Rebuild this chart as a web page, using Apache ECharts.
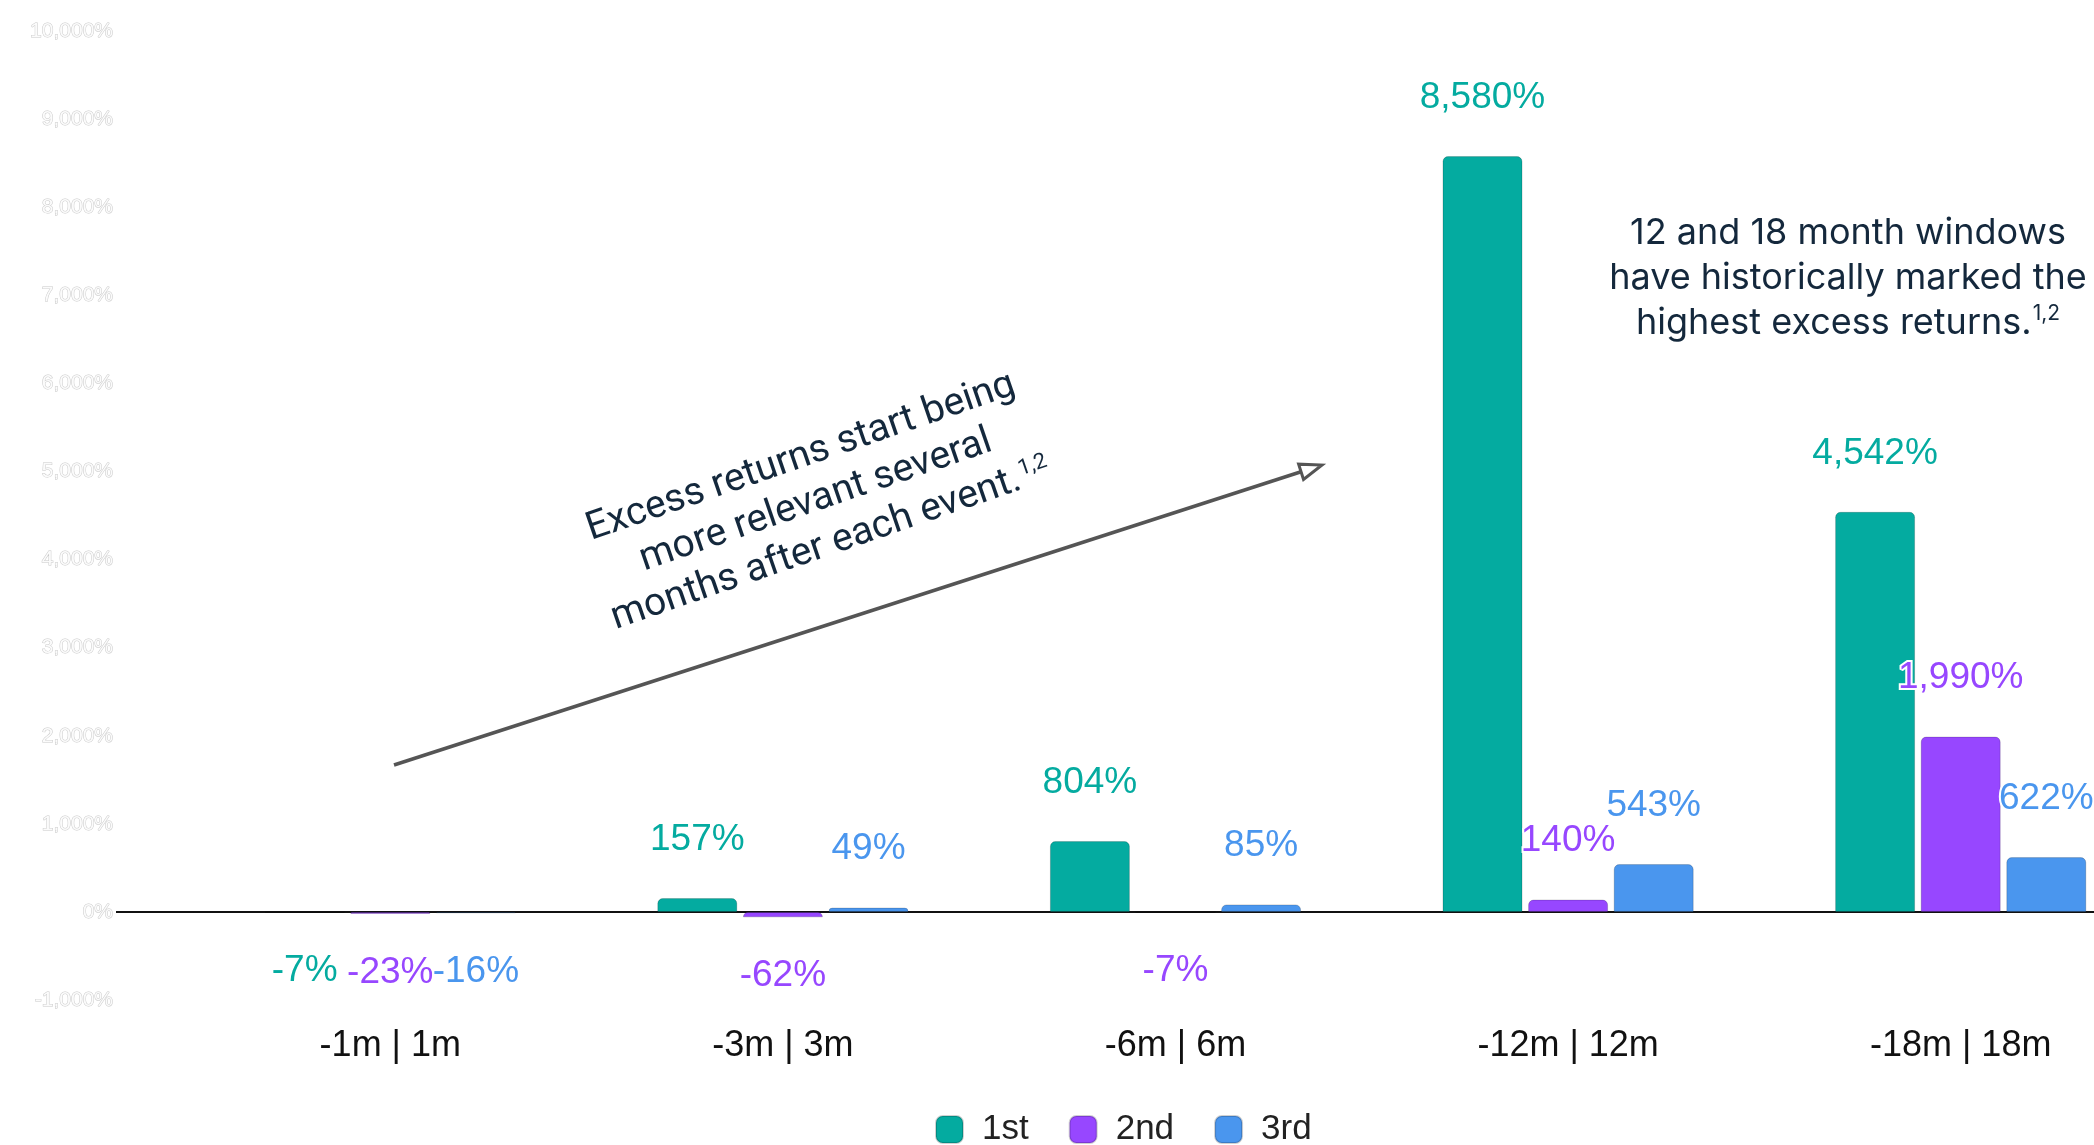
<!DOCTYPE html>
<html>
<head>
<meta charset="utf-8">
<script src="https://cdn.jsdelivr.net/npm/echarts@6/dist/echarts.min.js"></script>
<style>
html,body{margin:0;padding:0;background:#fff;}
#chart{width:2094px;height:1145px;}
</style>
</head>
<body>
<div id="chart"></div>
<script>
const categories = ['-1m | 1m', '-3m | 3m', '-6m | 6m', '-12m | 12m', '-18m | 18m'];
const seriesNames = ['1st', '2nd', '3rd'];
const first = [-7, 157, 804, 8580, 4542];
const second = [-23, -62, -7, 140, 1990];
const third = [-16, 49, 85, 543, 622];
const yMin = -1000, yMax = 10000, yInterval = 1000;
const colors = ['#04ABA0', '#9747FF', '#4A96EE'];

const chart = echarts.init(document.getElementById('chart'), null, {renderer: 'canvas'});

function fmt(v) {
  return v.toLocaleString('en-US') + '%';
}

function mkSeries(name, data, color) {
  return {
    name: name,
    type: 'bar',
    data: data,
    barWidth: 80,
    barGap: '7%',
    itemStyle: {color: color, borderRadius: [5, 5, 0, 0], borderColor: 'rgba(0,0,0,0.18)', borderWidth: 1},
    label: {
      show: true,
      position: 'outside',
      distance: 40,
      color: color,
      fontFamily: 'Liberation Sans',
      fontSize: 37,
      textBorderColor: '#fff',
      textBorderWidth: 4,
      formatter: p => fmt(p.value)
    }
  };
}

const option = {
  animation: false,
  backgroundColor: '#fff',
  color: colors,
  grid: {left: 194, right: -63, top: 31, bottom: 145, containLabel: false, outerBoundsMode: 'none'},
  legend: {
    data: seriesNames,
    left: 930,
    top: 1107,
    icon: 'roundRect',
    itemWidth: 27,
    itemHeight: 27,
    itemGap: 40,
    textStyle: {fontFamily: 'Liberation Sans', fontSize: 35, color: '#222', padding: [0, 0, 0, 14]}
  },
  xAxis: {
    type: 'category',
    data: categories,
    axisTick: {show: false},
    axisLine: {lineStyle: {color: '#111', width: 2}},
    axisLabel: {margin: 28, color: '#111', fontFamily: 'Liberation Sans', fontSize: 36}
  },
  yAxis: {
    type: 'value',
    min: yMin,
    max: yMax,
    interval: yInterval,
    offset: 73,
    splitLine: {show: false},
    axisLine: {show: false},
    axisTick: {show: false},
    axisLabel: {
      formatter: v => fmt(v),
      color: '#fbfbfb',
      textBorderColor: '#c9c9c9',
      textBorderWidth: 1,
      fontFamily: 'Liberation Sans',
      fontSize: 21,
      margin: 8
    }
  },
  series: [
    mkSeries(seriesNames[0], first, colors[0]),
    mkSeries(seriesNames[1], second, colors[1]),
    mkSeries(seriesNames[2], third, colors[2])
  ]
};
chart.setOption(option);

// Decorations: axis-line extension, arrow, annotations
const zeroY = chart.convertToPixel({yAxisIndex: 0}, 0);
const tip = [1322, 465], tail = [394, 765];
const dx = tip[0] - tail[0], dy = tip[1] - tail[1];
const len = Math.sqrt(dx * dx + dy * dy);
const ux = dx / len, uy = dy / len, px = -uy, py = ux;
const headL = 22, headW = 8;
const base = [tip[0] - ux * headL, tip[1] - uy * headL];

chart.setOption({
  graphic: [
    {type: 'line', shape: {x1: 116, y1: zeroY, x2: 196, y2: zeroY}, style: {stroke: '#111', lineWidth: 2}},
    {type: 'line', shape: {x1: tail[0], y1: tail[1], x2: base[0], y2: base[1]}, style: {stroke: '#555', lineWidth: 3.5}},
    {type: 'polygon', shape: {points: [tip, [base[0] + px * headW, base[1] + py * headW], [base[0] - px * headW, base[1] - py * headW]]},
      style: {fill: '#fff', stroke: '#555', lineWidth: 3}},
    {
      type: 'text', x: 816, y: 501, rotation: 19 * Math.PI / 180,
      style: {
        text: '{a|Excess returns start being}\n{a|more relevant several}\n{a|months after each event.}{s|1,2}',
        align: 'center', verticalAlign: 'middle',
        rich: {
          a: {fontFamily: 'Roboto', fontSize: 39, lineHeight: 46, fill: '#14283c', align: 'center'},
          s: {fontFamily: 'Roboto', fontSize: 22, lineHeight: 46, fill: '#14283c', padding: [0, 0, 18, 2]}
        }
      }
    },
    {
      type: 'text', x: 1848, y: 278,
      style: {
        text: '{a|12 and 18 month windows}\n{a|have historically marked the}\n{a|highest excess returns.}{s|1,2}',
        align: 'center', verticalAlign: 'middle',
        rich: {
          a: {fontFamily: 'Inter', fontSize: 36, lineHeight: 45, fill: '#14283c', align: 'center'},
          s: {fontFamily: 'Inter', fontSize: 21, lineHeight: 45, fill: '#14283c', padding: [0, 0, 18, 1]}
        }
      }
    }
  ]
});
</script>
</body>
</html>
